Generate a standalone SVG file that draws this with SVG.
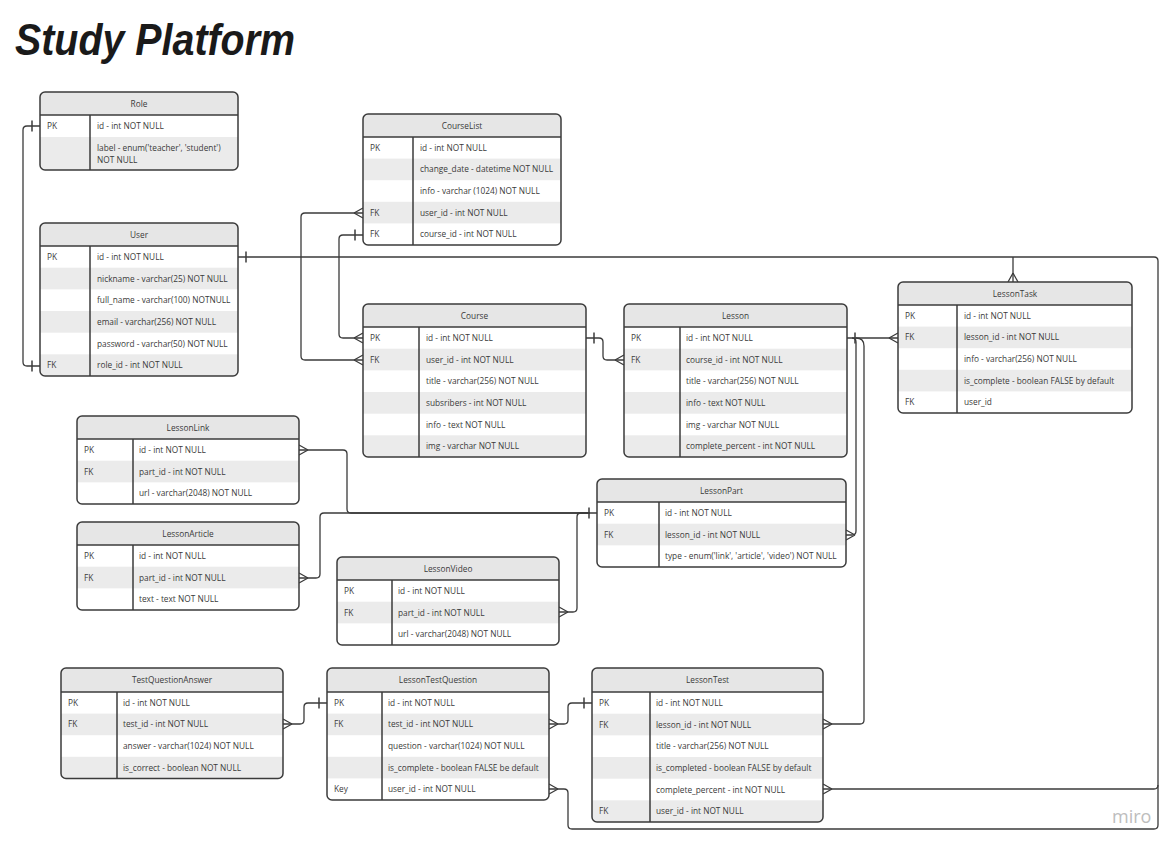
<svg xmlns="http://www.w3.org/2000/svg" width="1176" height="850" viewBox="0 0 1176 850">
<style>
.bg{fill:#fff}
.hd{fill:#e6e6e6}
.alt{fill:#ebebeb}
.frame{fill:none;stroke:#3b3b3b;stroke-width:1.5}
.sep{stroke:#3b3b3b;stroke-width:1.5}
text{font-family:"Open Sans","Noto Sans",sans-serif;font-size:8.3px;fill:#3a3a3a}
.ht{text-anchor:middle}
.cn{fill:none;stroke:#3b3b3b;stroke-width:1.3}
.title{font-family:"Liberation Sans",Arial,sans-serif;font-size:44px;font-style:italic;font-weight:bold;fill:#1a1a1a}
.logo{font-family:"Open Sans",sans-serif;font-size:18px;fill:#bdbdbd}
</style>
<defs>
<marker id="many" viewBox="-11 -7 13 14" refX="0" refY="0" markerWidth="13" markerHeight="14" markerUnits="userSpaceOnUse" orient="auto-start-reverse"><path d="M-9,0 L0,-5 M-9,0 L0,5" fill="none" stroke="#3b3b3b" stroke-width="1.3"/></marker>
<marker id="one" viewBox="-11 -7 13 14" refX="0" refY="0" markerWidth="13" markerHeight="14" markerUnits="userSpaceOnUse" orient="auto-start-reverse"><path d="M-8,-5.5 L-8,5.5" fill="none" stroke="#3b3b3b" stroke-width="1.5"/></marker>
<clipPath id="k-role"><rect x="40" y="92" width="198" height="78" rx="5"/></clipPath>
<clipPath id="k-user"><rect x="40" y="223" width="198" height="153" rx="5"/></clipPath>
<clipPath id="k-cl"><rect x="363" y="114" width="198" height="131" rx="5"/></clipPath>
<clipPath id="k-course"><rect x="363" y="304" width="223" height="153" rx="5"/></clipPath>
<clipPath id="k-lesson"><rect x="624" y="304" width="223" height="153" rx="5"/></clipPath>
<clipPath id="k-task"><rect x="898" y="282" width="234" height="131" rx="5"/></clipPath>
<clipPath id="k-link"><rect x="77" y="416" width="222" height="88" rx="5"/></clipPath>
<clipPath id="k-art"><rect x="77" y="522" width="222" height="88" rx="5"/></clipPath>
<clipPath id="k-vid"><rect x="337" y="557" width="222" height="88" rx="5"/></clipPath>
<clipPath id="k-part"><rect x="597" y="479" width="249" height="88" rx="5"/></clipPath>
<clipPath id="k-tqa"><rect x="61" y="668" width="222" height="110.4" rx="5"/></clipPath>
<clipPath id="k-ltq"><rect x="327" y="668" width="222" height="132" rx="5"/></clipPath>
<clipPath id="k-test"><rect x="592" y="668" width="231" height="154" rx="5"/></clipPath>
</defs>

<text class="title" x="15" y="55" textLength="280" lengthAdjust="spacingAndGlyphs">Study Platform</text>

<g id="connectors">
<path class="cn" d="M40,126 H27 Q23,126 23,130 V362 Q23,366 27,366 H40" marker-start="url(#one)" marker-end="url(#one)"/>
<path class="cn" d="M238,257 H1154 Q1158,257 1158,261 V825 Q1158,829 1154,829 H572 Q568,829 568,825 V793 Q568,789 564,789 H549" marker-start="url(#one)" marker-end="url(#many)"/>
<path class="cn" d="M363,213 H305 Q301,213 301,217 V356 Q301,360 305,360 H363" marker-start="url(#many)" marker-end="url(#many)"/>
<path class="cn" d="M1013,257 V282" marker-end="url(#many)"/>
<path class="cn" d="M1158,785 Q1158,789 1154,789 H823" marker-end="url(#many)"/>
<path class="cn" d="M363,235 H343 Q339,235 339,239 V334 Q339,338 343,338 H363" marker-start="url(#one)" marker-end="url(#many)"/>
<path class="cn" d="M586,338 H599 Q603,338 603,342 V356 Q603,360 607,360 H624" marker-start="url(#one)" marker-end="url(#many)"/>
<path class="cn" d="M847,338 H898" marker-start="url(#one)" marker-end="url(#many)"/>
<path class="cn" d="M852,338 Q856,338 856,342 V531 Q856,535 852,535 H846" marker-end="url(#many)"/>
<path class="cn" d="M856,338 Q864,338 864,346 V720 Q864,724 860,724 H823" marker-end="url(#many)"/>
<path class="cn" d="M299,450 H343 Q347,450 347,454 V509 Q347,513 351,513 H597" marker-start="url(#many)" marker-end="url(#one)"/>
<path class="cn" d="M299,578 H316 Q320,578 320,574 V517 Q320,513 324,513 H590" marker-start="url(#many)"/>
<path class="cn" d="M559,612 H573 Q577,612 577,608 V517 Q577,513 581,513 H590" marker-start="url(#many)"/>
<path class="cn" d="M283,724 H300 Q304,724 304,720 V707 Q304,703 308,703 H327" marker-start="url(#many)" marker-end="url(#one)"/>
<path class="cn" d="M549,724 H564 Q568,724 568,720 V707 Q568,703 572,703 H592" marker-start="url(#many)" marker-end="url(#one)"/>
</g>

<g id="role">
<g clip-path="url(#k-role)"><rect class="bg" x="40" y="92" width="198" height="78"/><rect class="hd" x="40" y="92" width="198" height="23"/><rect class="alt" x="40" y="137" width="198" height="33"/></g>
<line class="sep" x1="40" y1="115" x2="238" y2="115"/><line class="sep" x1="90" y1="115" x2="90" y2="170"/>
<rect class="frame" x="40" y="92" width="198" height="78" rx="5"/>
<text class="ht" x="139" y="107">Role</text>
<text x="47" y="129">PK</text><text x="97" y="129">id - int NOT NULL</text>
<text x="97" y="151">label - enum('teacher', 'student')</text><text x="97" y="162.5">NOT NULL</text>
</g>

<g id="user">
<g clip-path="url(#k-user)"><rect class="bg" x="40" y="223" width="198" height="153"/><rect class="hd" x="40" y="223" width="198" height="23"/><rect class="alt" x="40" y="267.67" width="198" height="21.67"/><rect class="alt" x="40" y="311" width="198" height="21.67"/><rect class="alt" x="40" y="354.33" width="198" height="21.67"/></g>
<line class="sep" x1="40" y1="246" x2="238" y2="246"/><line class="sep" x1="90" y1="246" x2="90" y2="376"/>
<rect class="frame" x="40" y="223" width="198" height="153" rx="5"/>
<text class="ht" x="139" y="238">User</text>
<text x="47" y="259.8">PK</text><text x="97" y="259.8">id - int NOT NULL</text>
<text x="97" y="281.5">nickname - varchar(25) NOT NULL</text>
<text x="97" y="303.2">full_name - varchar(100) NOTNULL</text>
<text x="97" y="324.8">email - varchar(256) NOT NULL</text>
<text x="97" y="346.5">password - varchar(50) NOT NULL</text>
<text x="47" y="368.2">FK</text><text x="97" y="368.2">role_id - int NOT NULL</text>
</g>

<g id="courselist">
<g clip-path="url(#k-cl)"><rect class="bg" x="363" y="114" width="198" height="131"/><rect class="hd" x="363" y="114" width="198" height="23"/><rect class="alt" x="363" y="158.6" width="198" height="21.6"/><rect class="alt" x="363" y="201.8" width="198" height="21.6"/></g>
<line class="sep" x1="363" y1="137" x2="561" y2="137"/><line class="sep" x1="413" y1="137" x2="413" y2="245"/>
<rect class="frame" x="363" y="114" width="198" height="131" rx="5"/>
<text class="ht" x="462" y="129">CourseList</text>
<text x="370" y="150.8">PK</text><text x="420" y="150.8">id - int NOT NULL</text>
<text x="420" y="172.4">change_date - datetime NOT NULL</text>
<text x="420" y="194">info - varchar (1024) NOT NULL</text>
<text x="370" y="215.6">FK</text><text x="420" y="215.6">user_id - int NOT NULL</text>
<text x="370" y="237.2">FK</text><text x="420" y="237.2">course_id - int NOT NULL</text>
</g>

<g id="course">
<g clip-path="url(#k-course)"><rect class="bg" x="363" y="304" width="223" height="153"/><rect class="hd" x="363" y="304" width="223" height="23"/><rect class="alt" x="363" y="348.67" width="223" height="21.67"/><rect class="alt" x="363" y="392" width="223" height="21.67"/><rect class="alt" x="363" y="435.33" width="223" height="21.67"/></g>
<line class="sep" x1="363" y1="327" x2="586" y2="327"/><line class="sep" x1="419" y1="327" x2="419" y2="457"/>
<rect class="frame" x="363" y="304" width="223" height="153" rx="5"/>
<text class="ht" x="474.5" y="319">Course</text>
<text x="370" y="340.8">PK</text><text x="426" y="340.8">id - int NOT NULL</text>
<text x="370" y="362.5">FK</text><text x="426" y="362.5">user_id - int NOT NULL</text>
<text x="426" y="384.2">title - varchar(256) NOT NULL</text>
<text x="426" y="405.8">subsribers - int NOT NULL</text>
<text x="426" y="427.5">info - text NOT NULL</text>
<text x="426" y="449.2">img - varchar NOT NULL</text>
</g>

<g id="lesson">
<g clip-path="url(#k-lesson)"><rect class="bg" x="624" y="304" width="223" height="153"/><rect class="hd" x="624" y="304" width="223" height="23"/><rect class="alt" x="624" y="348.67" width="223" height="21.67"/><rect class="alt" x="624" y="392" width="223" height="21.67"/><rect class="alt" x="624" y="435.33" width="223" height="21.67"/></g>
<line class="sep" x1="624" y1="327" x2="847" y2="327"/><line class="sep" x1="680" y1="327" x2="680" y2="457"/>
<rect class="frame" x="624" y="304" width="223" height="153" rx="5"/>
<text class="ht" x="735.5" y="319">Lesson</text>
<text x="631" y="340.8">PK</text><text x="686" y="340.8">id - int NOT NULL</text>
<text x="631" y="362.5">FK</text><text x="686" y="362.5">course_id - int NOT NULL</text>
<text x="686" y="384.2">title - varchar(256) NOT NULL</text>
<text x="686" y="405.8">info - text NOT NULL</text>
<text x="686" y="427.5">img - varchar NOT NULL</text>
<text x="686" y="449.2">complete_percent - int NOT NULL</text>
</g>

<g id="lessontask">
<g clip-path="url(#k-task)"><rect class="bg" x="898" y="282" width="234" height="131"/><rect class="hd" x="898" y="282" width="234" height="23"/><rect class="alt" x="898" y="326.6" width="234" height="21.6"/><rect class="alt" x="898" y="369.8" width="234" height="21.6"/></g>
<line class="sep" x1="898" y1="305" x2="1132" y2="305"/><line class="sep" x1="957" y1="305" x2="957" y2="413"/>
<rect class="frame" x="898" y="282" width="234" height="131" rx="5"/>
<text class="ht" x="1015" y="297">LessonTask</text>
<text x="905" y="318.8">PK</text><text x="964" y="318.8">id - int NOT NULL</text>
<text x="905" y="340.4">FK</text><text x="964" y="340.4">lesson_id - int NOT NULL</text>
<text x="964" y="362">info - varchar(256) NOT NULL</text>
<text x="964" y="383.6">is_complete - boolean FALSE by default</text>
<text x="905" y="405.2">FK</text><text x="964" y="405.2">user_id</text>
</g>

<g id="lessonlink">
<g clip-path="url(#k-link)"><rect class="bg" x="77" y="416" width="222" height="88"/><rect class="hd" x="77" y="416" width="222" height="23"/><rect class="alt" x="77" y="460.67" width="222" height="21.67"/></g>
<line class="sep" x1="77" y1="439" x2="299" y2="439"/><line class="sep" x1="133" y1="439" x2="133" y2="504"/>
<rect class="frame" x="77" y="416" width="222" height="88" rx="5"/>
<text class="ht" x="188" y="431">LessonLink</text>
<text x="84" y="452.8">PK</text><text x="139" y="452.8">id - int NOT NULL</text>
<text x="84" y="474.5">FK</text><text x="139" y="474.5">part_id - int NOT NULL</text>
<text x="139" y="496.2">url - varchar(2048) NOT NULL</text>
</g>

<g id="lessonarticle">
<g clip-path="url(#k-art)"><rect class="bg" x="77" y="522" width="222" height="88"/><rect class="hd" x="77" y="522" width="222" height="23"/><rect class="alt" x="77" y="566.67" width="222" height="21.67"/></g>
<line class="sep" x1="77" y1="545" x2="299" y2="545"/><line class="sep" x1="133" y1="545" x2="133" y2="610"/>
<rect class="frame" x="77" y="522" width="222" height="88" rx="5"/>
<text class="ht" x="188" y="537">LessonArticle</text>
<text x="84" y="558.8">PK</text><text x="139" y="558.8">id - int NOT NULL</text>
<text x="84" y="580.5">FK</text><text x="139" y="580.5">part_id - int NOT NULL</text>
<text x="139" y="602.2">text - text NOT NULL</text>
</g>

<g id="lessonvideo">
<g clip-path="url(#k-vid)"><rect class="bg" x="337" y="557" width="222" height="88"/><rect class="hd" x="337" y="557" width="222" height="23"/><rect class="alt" x="337" y="601.67" width="222" height="21.67"/></g>
<line class="sep" x1="337" y1="580" x2="559" y2="580"/><line class="sep" x1="392" y1="580" x2="392" y2="645"/>
<rect class="frame" x="337" y="557" width="222" height="88" rx="5"/>
<text class="ht" x="448" y="572">LessonVideo</text>
<text x="344" y="593.8">PK</text><text x="398" y="593.8">id - int NOT NULL</text>
<text x="344" y="615.5">FK</text><text x="398" y="615.5">part_id - int NOT NULL</text>
<text x="398" y="637.2">url - varchar(2048) NOT NULL</text>
</g>

<g id="lessonpart">
<g clip-path="url(#k-part)"><rect class="bg" x="597" y="479" width="249" height="88"/><rect class="hd" x="597" y="479" width="249" height="23"/><rect class="alt" x="597" y="523.67" width="249" height="21.67"/></g>
<line class="sep" x1="597" y1="502" x2="846" y2="502"/><line class="sep" x1="659" y1="502" x2="659" y2="567"/>
<rect class="frame" x="597" y="479" width="249" height="88" rx="5"/>
<text class="ht" x="721.5" y="494">LessonPart</text>
<text x="604" y="515.8">PK</text><text x="665" y="515.8">id - int NOT NULL</text>
<text x="604" y="537.5">FK</text><text x="665" y="537.5">lesson_id - int NOT NULL</text>
<text x="665" y="559.2">type - enum('link', 'article', 'video') NOT NULL</text>
</g>

<g id="testquestionanswer">
<g clip-path="url(#k-tqa)"><rect class="bg" x="61" y="668" width="222" height="110.4"/><rect class="hd" x="61" y="668" width="222" height="24"/><rect class="alt" x="61" y="713.6" width="222" height="21.6"/><rect class="alt" x="61" y="756.8" width="222" height="21.6"/></g>
<line class="sep" x1="61" y1="692" x2="283" y2="692"/><line class="sep" x1="117" y1="692" x2="117" y2="778.4"/>
<rect class="frame" x="61" y="668" width="222" height="110.4" rx="5"/>
<text class="ht" x="172" y="683">TestQuestionAnswer</text>
<text x="68" y="705.8">PK</text><text x="123" y="705.8">id - int NOT NULL</text>
<text x="68" y="727.4">FK</text><text x="123" y="727.4">test_id - int NOT NULL</text>
<text x="123" y="749">answer - varchar(1024) NOT NULL</text>
<text x="123" y="770.6">is_correct - boolean NOT NULL</text>
</g>

<g id="lessontestquestion">
<g clip-path="url(#k-ltq)"><rect class="bg" x="327" y="668" width="222" height="132"/><rect class="hd" x="327" y="668" width="222" height="24"/><rect class="alt" x="327" y="713.6" width="222" height="21.6"/><rect class="alt" x="327" y="756.8" width="222" height="21.6"/></g>
<line class="sep" x1="327" y1="692" x2="549" y2="692"/><line class="sep" x1="382" y1="692" x2="382" y2="800"/>
<rect class="frame" x="327" y="668" width="222" height="132" rx="5"/>
<text class="ht" x="438" y="683">LessonTestQuestion</text>
<text x="334" y="705.8">PK</text><text x="388" y="705.8">id - int NOT NULL</text>
<text x="334" y="727.4">FK</text><text x="388" y="727.4">test_id - int NOT NULL</text>
<text x="388" y="749">question - varchar(1024) NOT NULL</text>
<text x="388" y="770.6">is_complete - boolean FALSE be default</text>
<text x="334" y="792.2">Key</text><text x="388" y="792.2">user_id - int NOT NULL</text>
</g>

<g id="lessontest">
<g clip-path="url(#k-test)"><rect class="bg" x="592" y="668" width="231" height="154"/><rect class="hd" x="592" y="668" width="231" height="24"/><rect class="alt" x="592" y="713.67" width="231" height="21.67"/><rect class="alt" x="592" y="757" width="231" height="21.67"/><rect class="alt" x="592" y="800.33" width="231" height="21.67"/></g>
<line class="sep" x1="592" y1="692" x2="823" y2="692"/><line class="sep" x1="650" y1="692" x2="650" y2="822"/>
<rect class="frame" x="592" y="668" width="231" height="154" rx="5"/>
<text class="ht" x="707.5" y="683">LessonTest</text>
<text x="599" y="705.8">PK</text><text x="656" y="705.8">id - int NOT NULL</text>
<text x="599" y="727.5">FK</text><text x="656" y="727.5">lesson_id - int NOT NULL</text>
<text x="656" y="749.2">title - varchar(256) NOT NULL</text>
<text x="656" y="770.8">is_completed - boolean FALSE by default</text>
<text x="656" y="792.5">complete_percent - int NOT NULL</text>
<text x="599" y="814.2">FK</text><text x="656" y="814.2">user_id - int NOT NULL</text>
</g>

<text class="logo" x="1112" y="823">miro</text>
</svg>
